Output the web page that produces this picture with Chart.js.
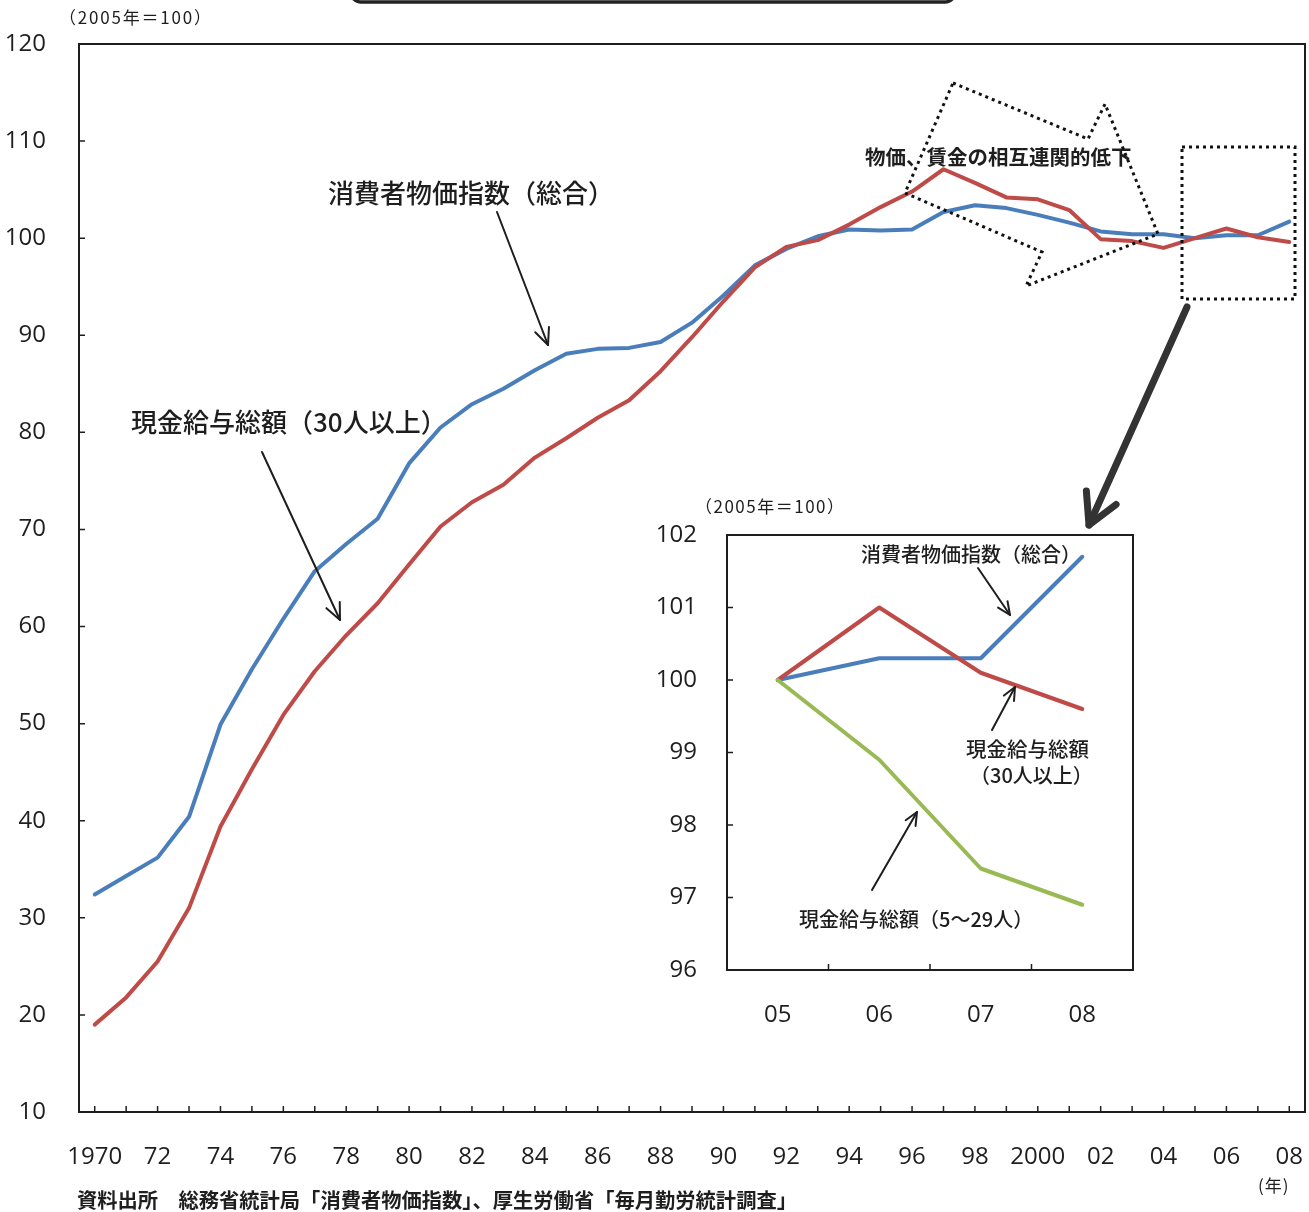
<!DOCTYPE html>
<html lang="ja">
<head>
<meta charset="utf-8">
<script src="https://cdn.jsdelivr.net/npm/chart.js@4.4.0/dist/chart.umd.min.js"></script>
<style>
  html, body { margin: 0; padding: 0; background: #fff; }
  #wrap { position: relative; width: 1309px; height: 1212px; overflow: hidden; }
  #mainChart { position: absolute; left: 0; top: 0; }
  #insetChart { position: absolute; left: 640px; top: 480px; }
</style>
</head>
<body>
<div id="wrap">
  <canvas id="mainChart" width="1309" height="1212"></canvas>
  <canvas id="insetChart" width="520" height="570"></canvas>
</div>
<script>
// 1970-2008, 2005 = 100
const years = ['1970', '1971', '1972', '1973', '1974', '1975', '1976', '1977', '1978', '1979',
  '1980', '1981', '1982', '1983', '1984', '1985', '1986', '1987', '1988', '1989',
  '1990', '1991', '1992', '1993', '1994', '1995', '1996', '1997', '1998', '1999',
  '2000', '2001', '2002', '2003', '2004', '2005', '2006', '2007', '2008'];
const yearTickLabels = ['1970', '', '72', '', '74', '', '76', '', '78', '',
  '80', '', '82', '', '84', '', '86', '', '88', '',
  '90', '', '92', '', '94', '', '96', '', '98', '',
  '2000', '', '02', '', '04', '', '06', '', '08'];
const cpi = [32.4, 34.3, 36.2, 40.4, 49.9, 55.6, 60.8, 65.7, 68.5, 71.1,
  76.8, 80.5, 82.9, 84.5, 86.4, 88.1, 88.6, 88.7, 89.3, 91.3,
  94.1, 97.2, 98.9, 100.2, 100.9, 100.8, 100.9, 102.7, 103.4, 103.1,
  102.4, 101.6, 100.7, 100.4, 100.4, 100.0, 100.3, 100.3, 101.7];
const wage30 = [19.0, 21.8, 25.5, 31.0, 39.4, 45.3, 50.9, 55.4, 59.1, 62.4,
  66.4, 70.3, 72.8, 74.6, 77.4, 79.4, 81.5, 83.3, 86.3, 89.8,
  93.5, 97.0, 99.1, 99.8, 101.4, 103.2, 104.8, 107.1, 105.7, 104.2,
  104.0, 102.9, 99.9, 99.7, 99.0, 100.0, 101.0, 100.1, 99.6];

// 2005-2008 detail
const insetYears = ['05', '06', '07', '08'];
const insetCpi = [100.0, 100.3, 100.3, 101.7];
const insetWage30 = [100.0, 101.0, 100.1, 99.6];
const insetWage5 = [100.0, 98.9, 97.4, 96.9];

const BLUE = '#4a7ebb';
const RED = '#be4b48';
const GREEN = '#98b954';
const INK = '#1e1e1e';
const NUM_FONT = "'Open Sans', sans-serif";
const JP_FONT = "'Noto Sans CJK JP', sans-serif";

function arrow(ctx, x1, y1, x2, y2, head, width, color, spread) {
  const a = Math.atan2(y2 - y1, x2 - x1);
  const s = spread || 0.42;
  ctx.save();
  ctx.strokeStyle = color;
  ctx.lineWidth = width;
  ctx.lineCap = 'round';
  ctx.lineJoin = 'round';
  ctx.beginPath();
  ctx.moveTo(x1, y1);
  ctx.lineTo(x2, y2);
  ctx.stroke();
  ctx.beginPath();
  ctx.moveTo(x2 - head * Math.cos(a - s), y2 - head * Math.sin(a - s));
  ctx.lineTo(x2, y2);
  ctx.lineTo(x2 - head * Math.cos(a + s), y2 - head * Math.sin(a + s));
  ctx.stroke();
  ctx.restore();
}

function label(ctx, text, x, y, size, weight, spacing) {
  ctx.save();
  ctx.fillStyle = INK;
  ctx.font = `${weight || 500} ${size}px ${JP_FONT}`;
  ctx.letterSpacing = spacing ? `${spacing}px` : '0px';
  ctx.textAlign = 'left';
  ctx.textBaseline = 'middle';
  ctx.fillText(text, x, y);
  ctx.restore();
}

// plot frame plus short inward tick marks
function frame(chart, tickX) {
  const { ctx, chartArea: a, scales } = chart;
  ctx.save();
  ctx.strokeStyle = INK;
  ctx.lineWidth = 2;
  ctx.strokeRect(a.left, a.top, a.right - a.left, a.bottom - a.top);
  ctx.lineWidth = 1.5;
  ctx.beginPath();
  scales.y.ticks.forEach(t => {
    if (t.value === scales.y.min || t.value === scales.y.max) return;
    const py = scales.y.getPixelForValue(t.value);
    ctx.moveTo(a.left, py);
    ctx.lineTo(a.left + 6, py);
  });
  tickX(scales.x, a).forEach(px => {
    ctx.moveTo(px, a.bottom);
    ctx.lineTo(px, a.bottom - 6);
  });
  ctx.stroke();
  ctx.restore();
}

const mainDecor = {
  id: 'mainDecor',
  afterDraw(chart) {
    const ctx = chart.ctx;
    frame(chart, (x) => x.ticks.map((t, i) => x.getPixelForTick(i)));

    // heading box edge at the very top
    ctx.save();
    ctx.strokeStyle = '#222';
    ctx.lineWidth = 3.5;
    ctx.beginPath();
    ctx.roundRect(351, -30, 604, 32, 10);
    ctx.stroke();
    ctx.restore();

    label(ctx, '（2005年＝100）', 59, 18, 17, 400, 1.8);
    label(ctx, '消費者物価指数（総合）', 328, 193, 26);
    arrow(ctx, 497, 212, 548, 345, 18, 2, INK);
    label(ctx, '現金給与総額（30人以上）', 131, 422, 26);
    arrow(ctx, 262, 452, 340, 620, 18, 2, INK);
    label(ctx, '物価、賃金の相互連関的低下', 865, 157, 20.5, 700);

    // dotted outline arrow and dotted frame
    ctx.save();
    ctx.strokeStyle = '#111';
    ctx.lineWidth = 3;
    ctx.setLineDash([3, 4]);
    ctx.beginPath();
    [[953, 83], [1088, 139], [1105, 104], [1158, 234], [1026, 286], [1042, 252], [905, 193]]
      .forEach((p, i) => (i ? ctx.lineTo(p[0], p[1]) : ctx.moveTo(p[0], p[1])));
    ctx.closePath();
    ctx.stroke();
    ctx.strokeRect(1182, 147, 113, 152);
    ctx.restore();

    arrow(ctx, 1187, 307, 1089, 525, 34, 7, '#333', 0.5);

    label(ctx, '資料出所　総務省統計局「消費者物価指数」、厚生労働省「毎月勤労統計調査」', 77, 1200, 20.3, 700);
    label(ctx, '(年)', 1258, 1186, 17, 400, 1);
  }
};

const insetDecor = {
  id: 'insetDecor',
  afterDraw(chart) {
    const ctx = chart.ctx;
    frame(chart, (x, a) => {
      const w = (a.right - a.left) / x.ticks.length;
      return x.ticks.slice(1).map((t, i) => a.left + w * (i + 1));
    });
    // page offset of this canvas is (640, 480)
    ctx.save();
    ctx.translate(-640, -480);
    label(ctx, '（2005年＝100）', 695, 507, 17, 400, 1.5);
    label(ctx, '消費者物価指数（総合）', 861, 554, 20);
    arrow(ctx, 978, 568, 1010, 615, 14, 2, INK);
    label(ctx, '現金給与総額', 966, 749, 20.5);
    label(ctx, '（30人以上）', 970, 775, 20);
    arrow(ctx, 992, 730, 1015, 687, 14, 2, INK);
    label(ctx, '現金給与総額（5～29人）', 799, 919, 20);
    arrow(ctx, 872, 890, 917, 812, 14, 2, INK);
    ctx.restore();
  }
};

const line = (data, color) => ({
  data,
  borderColor: color,
  borderWidth: 4,
  borderCapStyle: 'round',
  borderJoinStyle: 'round',
  pointRadius: 0,
  tension: 0,
  fill: false
});

const tickFont = { family: NUM_FONT, size: 24 };

new Chart(document.getElementById('mainChart'), {
  type: 'line',
  data: {
    labels: years,
    datasets: [line(wage30, RED), line(cpi, BLUE)]
  },
  options: {
    responsive: false,
    animation: false,
    devicePixelRatio: 1,
    layout: { padding: { top: 44, right: 4, left: 0, bottom: 0 } },
    plugins: { legend: { display: false }, tooltip: { enabled: false } },
    scales: {
      x: {
        offset: true,
        grid: { display: false },
        border: { display: false },
        ticks: {
          autoSkip: false, maxRotation: 0, padding: 23, color: INK, font: tickFont,
          callback: (v, i) => yearTickLabels[i]
        },
        afterFit(s) { s.height = 100; s.paddingLeft = 0; s.paddingRight = 0; }
      },
      y: {
        min: 10, max: 120,
        grid: { display: false },
        border: { display: false },
        ticks: { stepSize: 10, padding: 25, color: INK, font: tickFont },
        afterFit(s) { s.width = 79; s.paddingTop = 0; s.paddingBottom = 0; }
      }
    }
  },
  plugins: [mainDecor]
});

new Chart(document.getElementById('insetChart'), {
  type: 'line',
  data: {
    labels: insetYears,
    datasets: [line(insetWage5, GREEN), line(insetWage30, RED), line(insetCpi, BLUE)]
  },
  options: {
    responsive: false,
    animation: false,
    devicePixelRatio: 1,
    layout: { padding: { top: 55, right: 27, left: 0, bottom: 0 } },
    plugins: { legend: { display: false }, tooltip: { enabled: false } },
    scales: {
      x: {
        offset: true,
        grid: { display: false },
        border: { display: false },
        ticks: { maxRotation: 0, padding: 23, color: INK, font: tickFont },
        afterFit(s) { s.height = 80; s.paddingLeft = 0; s.paddingRight = 0; }
      },
      y: {
        min: 96, max: 102,
        grid: { display: false },
        border: { display: false },
        ticks: { stepSize: 1, padding: 22, color: INK, font: tickFont },
        afterFit(s) { s.width = 87; s.paddingTop = 0; s.paddingBottom = 0; }
      }
    }
  },
  plugins: [insetDecor]
});
</script>
</body>
</html>
